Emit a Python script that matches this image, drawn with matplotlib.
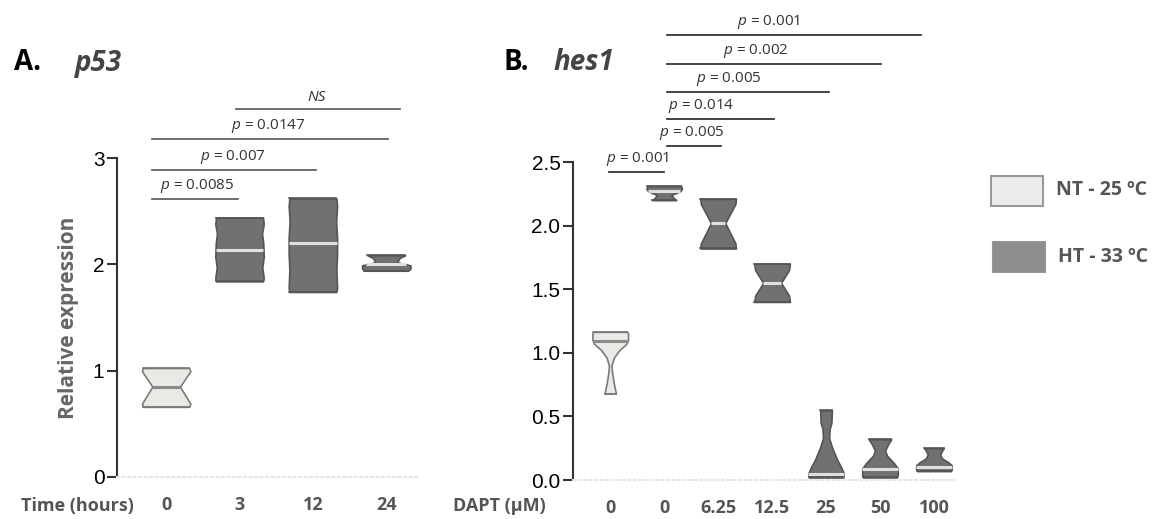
import matplotlib
matplotlib.use("Agg")
import matplotlib.pyplot as plt
from matplotlib.patches import Rectangle
import numpy as np

plt.rcParams['font.family'] = ['Open Sans', 'DejaVu Sans']
plt.rcParams['mathtext.fontset'] = 'custom'
plt.rcParams['mathtext.it'] = 'Open Sans:italic'
plt.rcParams['mathtext.rm'] = 'Open Sans'

# ---------------- data ----------------
# Panel A: p53
p53_labels = ["0", "3", "12", "24"]
p53_groups = ["NT", "HT", "HT", "HT"]
p53_medians = [0.85, 2.135, 2.20, 2.00]
# violin outlines: (value, relative half-width)
p53_profiles = [
    [(0.66, 0.95), (0.69, 1.0), (0.85, 0.57), (0.995, 1.0), (1.025, 0.95)],
    [(1.84, 0.97), (1.87, 1.0), (1.97, 0.94), (2.07, 1.0), (2.20, 0.98),
     (2.29, 0.93), (2.38, 1.0), (2.44, 0.97)],
    [(1.74, 0.97), (1.78, 1.0), (1.95, 0.97), (2.10, 1.0), (2.25, 1.0),
     (2.40, 0.96), (2.55, 1.0), (2.62, 0.97)],
    [(1.94, 0.9), (1.96, 1.0), (1.99, 1.0), (2.02, 0.45), (2.06, 0.55), (2.085, 0.78)],
]
p53_comp_start = [-0.19, -0.19, -0.19, 0.95]
p53_comp_end = [0.98, 2.04, 3.02, 3.19]
p53_comp_y = [2.615, 2.89, 3.18, 3.46]
p53_comp_text = ["$p$ = 0.0085", "$p$ = 0.007", "$p$ = 0.0147", "NS"]
p53_comp_tx = [0.42, 0.91, 1.39, 2.05]

# Panel B: hes1
hes1_labels = ["0", "0", "6.25", "12.5", "25", "50", "100"]
hes1_groups = ["NT", "HT", "HT", "HT", "HT", "HT", "HT"]
hes1_medians = [1.09, 2.27, 2.02, 1.55, 0.045, 0.085, 0.10]
hes1_profiles = [
    [(0.68, 0.32), (0.76, 0.2), (0.85, 0.1), (0.90, 0.07), (0.96, 0.2),
     (1.02, 0.5), (1.07, 0.9), (1.10, 1.0), (1.15, 1.0), (1.165, 0.95)],
    [(2.20, 0.68), (2.215, 0.55), (2.24, 0.4), (2.27, 0.9), (2.29, 1.0), (2.31, 0.95)],
    [(1.82, 1.0), (1.86, 0.97), (2.02, 0.4), (2.17, 0.97), (2.21, 1.0)],
    [(1.40, 1.0), (1.45, 0.95), (1.55, 0.5), (1.65, 0.95), (1.70, 1.0)],
    [(0.02, 0.97), (0.05, 1.0), (0.10, 0.85), (0.16, 0.62), (0.25, 0.35),
     (0.33, 0.17), (0.40, 0.2), (0.45, 0.3), (0.547, 0.33)],
    [(0.02, 0.95), (0.04, 1.0), (0.09, 1.0), (0.13, 0.8), (0.19, 0.4),
     (0.23, 0.28), (0.28, 0.45), (0.32, 0.63)],
    [(0.07, 0.95), (0.085, 1.0), (0.115, 1.0), (0.14, 0.8), (0.17, 0.45),
     (0.20, 0.35), (0.23, 0.45), (0.25, 0.55)],
]
hes1_comp_start = [-0.02, 1.06, 1.06, 1.06, 1.06, 1.06]
hes1_comp_end = [1.0, 2.06, 3.04, 4.06, 5.02, 5.76]
hes1_comp_y = [2.42, 2.625, 2.84, 3.05, 3.27, 3.50]
hes1_comp_text = ["$p$ = 0.001", "$p$ = 0.005", "$p$ = 0.014", "$p$ = 0.005",
                  "$p$ = 0.002", "$p$ = 0.001"]
hes1_comp_tx = [0.50, 1.52, 1.69, 2.19, 2.70, 2.94]

legend_labels = ["NT - 25 ºC", "HT - 33 ºC"]

# ---------------- styles ----------------
FILL = {"NT": "#e9e9e5", "HT": "#717171"}
EDGE = {"NT": "#7a7a7a", "HT": "#555555"}
MED = {"NT": "#8a8a8a", "HT": "#e0e0e0"}
HALF = 0.33
GRAY_TXT = "#555555"

fig = plt.figure(figsize=(11.71, 5.19), dpi=100)


def draw_violins(ax, profiles, medians, groups):
    for i, (prof, med, g) in enumerate(zip(profiles, medians, groups)):
        ys = np.array([p[0] for p in prof])
        ws = np.array([p[1] for p in prof]) * HALF
        ax.fill_betweenx(ys, i - ws, i + ws, facecolor=FILL[g], edgecolor=EDGE[g],
                         linewidth=1.2, zorder=3)
        ax.plot([i - ws[0], i + ws[0]], [ys[0], ys[0]], color=EDGE[g], lw=1.2, zorder=3)
        ax.plot([i - ws[-1], i + ws[-1]], [ys[-1], ys[-1]], color=EDGE[g], lw=1.2, zorder=3)
        wm = np.interp(med, ys, ws)
        ax.plot([i - wm, i + wm], [med, med], color=MED[g], lw=2.2, zorder=4,
                solid_capstyle='butt')


def style_axes(ax, labels, xlim, ylim, yticks, yfmt):
    ax.set_xlim(*xlim)
    ax.set_ylim(*ylim)
    for s in ["top", "right"]:
        ax.spines[s].set_visible(False)
    ax.spines["left"].set_color("#333333")
    ax.spines["left"].set_linewidth(1.5)
    ax.spines["bottom"].set_color("#e6e6e6")
    ax.spines["bottom"].set_linestyle(":")
    ax.spines["bottom"].set_linewidth(1.5)
    ax.set_yticks(yticks)
    ax.set_yticklabels([yfmt.format(v) for v in yticks], family="Liberation Sans",
                       fontsize=15, color="black")
    ax.tick_params(axis="y", length=7, width=1.5, color="#333333", pad=2)
    ax.set_xticks(range(len(labels)))
    ax.set_xticklabels(labels, fontsize=13, fontweight="bold", color=GRAY_TXT)
    ax.tick_params(axis="x", length=0, pad=14)
    ax.patch.set_alpha(0)


def draw_comps(ax, xs, xe, ys, texts, txs, lcolor):
    for a, b, y, t, tx in zip(xs, xe, ys, texts, txs):
        ax.plot([a, b], [y, y], color=lcolor, lw=1.2, clip_on=False)
        style = "italic" if t == "NS" else "normal"
        ax.annotate(t, xy=(tx, y), xytext=(0, 3), textcoords="offset points",
                    ha="center", va="bottom", fontsize=11, color="#333333",
                    fontstyle=style, annotation_clip=False)


# Panel A
axA = fig.add_axes([117 / 1171, 42 / 519, 303 / 1171, 319 / 519])
draw_violins(axA, p53_profiles, p53_medians, p53_groups)
style_axes(axA, p53_labels, (-0.67, 3.46), (0, 3), [0, 1, 2, 3], "{:.0f}")
axA.set_ylabel("Relative expression", fontsize=15, fontweight="bold", color="#666666",
               labelpad=10)
draw_comps(axA, p53_comp_start, p53_comp_end, p53_comp_y, p53_comp_text, p53_comp_tx,
           "#555555")

# Panel B
axB = fig.add_axes([573 / 1171, 39 / 519, 382 / 1171, 318 / 519])
draw_violins(axB, hes1_profiles, hes1_medians, hes1_groups)
style_axes(axB, hes1_labels, (-0.69, 6.39), (0, 2.5), [0, 0.5, 1.0, 1.5, 2.0, 2.5], "{:.1f}")
draw_comps(axB, hes1_comp_start, hes1_comp_end, hes1_comp_y, hes1_comp_text, hes1_comp_tx,
           "#222222")

# x axis titles
fig.text(77 / 1171, 1 - 506 / 519, "Time (hours)", ha="center", va="center",
         fontsize=13, fontweight="bold", color=GRAY_TXT)
fig.text(499 / 1171, 1 - 506 / 519, "DAPT (µM)", ha="center", va="center",
         fontsize=13, fontweight="bold", color=GRAY_TXT)

# panel titles
fig.text(14 / 1171, 1 - 63 / 519, "A.", ha="left", va="center", fontsize=20,
         fontweight="bold", color="black")
fig.text(75 / 1171, 1 - 63 / 519, "p53", ha="left", va="center", fontsize=20,
         fontweight="bold", fontstyle="italic", color="#444444")
fig.text(503 / 1171, 1 - 63 / 519, "B.", ha="left", va="center", fontsize=20,
         fontweight="bold", color="black")
fig.text(553 / 1171, 1 - 63 / 519, "hes1", ha="left", va="center", fontsize=20,
         fontweight="bold", fontstyle="italic", color="#444444")

# legend
fig.add_artist(Rectangle((991 / 1171, 1 - 206 / 519), 52 / 1171, 30 / 519,
                         transform=fig.transFigure, facecolor="#ececec",
                         edgecolor="#999999", lw=1.5))
fig.add_artist(Rectangle((992 / 1171, 1 - 272 / 519), 53 / 1171, 31 / 519,
                         transform=fig.transFigure, facecolor="#8e8e8e",
                         edgecolor="#999999", lw=0.8))
fig.text(1056 / 1171, 1 - 190 / 519, legend_labels[0], ha="left", va="center",
         fontsize=14, fontweight="bold", color=GRAY_TXT)
fig.text(1058 / 1171, 1 - 257 / 519, legend_labels[1], ha="left", va="center",
         fontsize=14, fontweight="bold", color=GRAY_TXT)

fig.savefig("out.png", dpi=100)
